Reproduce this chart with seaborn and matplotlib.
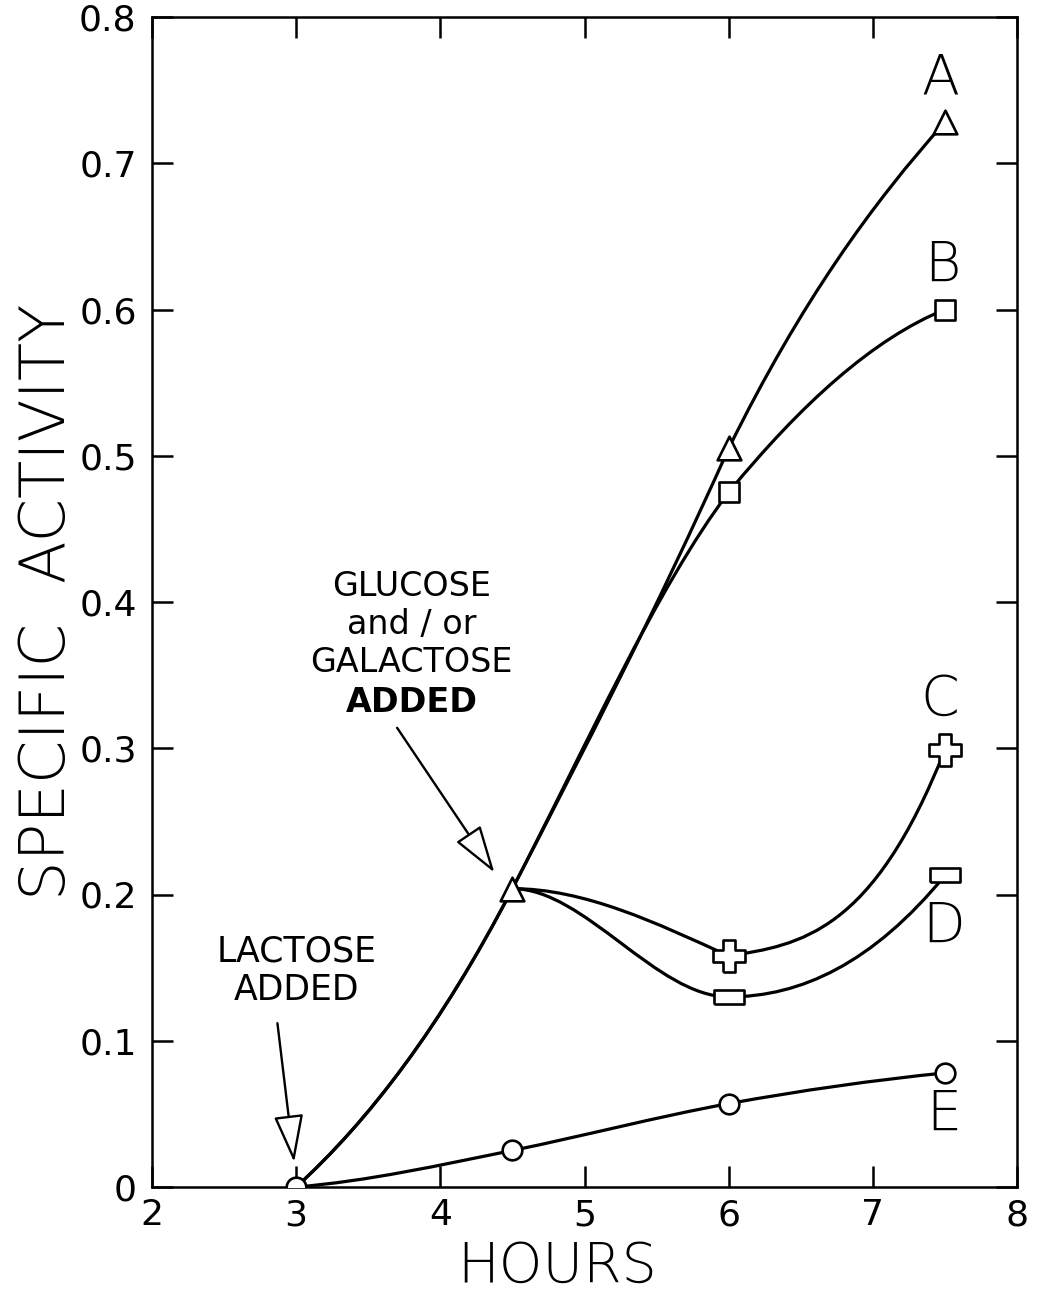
import numpy as np
import matplotlib
matplotlib.use("Agg")
import matplotlib.pyplot as plt
from matplotlib.path import Path
from matplotlib.patches import PathPatch
import seaborn as sns

# ---------------- data ----------------
hours_A = [3.0, 4.5, 6.0, 7.5]
act_A = [0.0, 0.204, 0.505, 0.728]

hours_B = [3.0, 4.5, 6.0, 7.5]
act_B = [0.0, 0.204, 0.475, 0.600]

hours_C = [4.5, 6.0, 7.5]
act_C = [0.204, 0.158, 0.299]

hours_D = [4.5, 6.0, 7.5]
act_D = [0.204, 0.130, 0.213]

hours_E = [3.0, 4.5, 6.0, 7.5]
act_E = [0.0, 0.025, 0.057, 0.078]

curve_names = ["A", "B", "C", "D", "E"]
x_ticks = [2, 3, 4, 5, 6, 7, 8]
x_tick_labels = ["2", "3", "4", "5", "6", "7", "8"]
y_ticks = [0.0, 0.1, 0.2, 0.3, 0.4, 0.5, 0.6, 0.7, 0.8]
y_tick_labels = ["0", "0.1", "0.2", "0.3", "0.4", "0.5", "0.6", "0.7", "0.8"]

# ---------------- drawing style (hand-drawn curve tangents: in/out slopes) ----
shape_A = [(0.09, 0.09), (0.19, 0.19), (0.22, 0.20), (0.11, 0.11)]
shape_B = [(0.09, 0.09), (0.19, 0.19), (0.13, 0.12), (0.04, 0.04)]
shape_C = [(0.0, 0.0), (-0.045, 0.015), (0.25, 0.25)]
shape_D = [(0.0, 0.0), (0.0, 0.0), (0.12, 0.12)]
shape_E = [(0.008, 0.008), (0.02, 0.02), (0.018, 0.018), (0.01, 0.01)]

sns.set_style("ticks")
plt.rcParams["font.family"] = ["DejaVu Sans"]
plt.rcParams["text.color"] = "black"
plt.rcParams["axes.labelcolor"] = "black"
plt.rcParams["xtick.color"] = "black"
plt.rcParams["ytick.color"] = "black"

fig = plt.figure(figsize=(10.39, 12.96), dpi=100)
ax = fig.add_axes([152 / 1039, 1 - 1187 / 1296, 865 / 1039, 1170 / 1296])

LW = 2.3


def smooth_path(xs, ys, slopes):
    verts = [(xs[0], ys[0])]
    codes = [Path.MOVETO]
    for i in range(len(xs) - 1):
        h = xs[i + 1] - xs[i]
        m0 = slopes[i][1]
        m1 = slopes[i + 1][0]
        verts += [(xs[i] + h / 3, ys[i] + m0 * h / 3),
                  (xs[i + 1] - h / 3, ys[i + 1] - m1 * h / 3),
                  (xs[i + 1], ys[i + 1])]
        codes += [Path.CURVE4] * 3
    return Path(verts, codes)


for xs, ys, sh in [(hours_A, act_A, shape_A), (hours_B, act_B, shape_B),
                   (hours_C, act_C, shape_C), (hours_D, act_D, shape_D),
                   (hours_E, act_E, shape_E)]:
    ax.add_patch(PathPatch(smooth_path(xs, ys, sh), fill=False,
                           edgecolor="black", lw=LW, zorder=2,
                           capstyle="round", joinstyle="round"))

# marker shapes
w = 0.4
plus_verts = [(-w, -1), (w, -1), (w, -w), (1, -w), (1, w), (w, w), (w, 1),
              (-w, 1), (-w, w), (-1, w), (-1, -w), (-w, -w), (-w, -1)]
rect_verts = [(-1, -0.48), (1, -0.48), (1, 0.48), (-1, 0.48), (-1, -0.48)]

mk = dict(color="white", edgecolor="black", linewidth=1.9, zorder=4, ax=ax,
          legend=False)
sns.scatterplot(x=hours_A[1:], y=act_A[1:], marker="^", s=290, **mk)
sns.scatterplot(x=hours_B[2:], y=act_B[2:], marker="s", s=220, **mk)
sns.scatterplot(x=hours_C[1:], y=act_C[1:], marker=plus_verts, s=500, **mk)
sns.scatterplot(x=hours_D[1:], y=act_D[1:], marker=rect_verts, s=480, **mk)
sns.scatterplot(x=hours_E, y=act_E, marker="o", s=200, **mk)

# curve letters
letter_pos = [(7.465, 0.758), (7.48, 0.630), (7.465, 0.333),
              (7.49, 0.178), (7.49, 0.049)]
for name, (lx, ly) in zip(curve_names, letter_pos):
    ax.text(lx, ly, name, ha="center", va="center", fontsize=40,
            fontweight="light", zorder=5)

# annotations
arrow_kw = dict(arrowstyle="-|>,head_length=1.15,head_width=0.36",
                fc="white", ec="black", lw=1.7, mutation_scale=26,
                shrinkA=0, shrinkB=0)
ax.annotate("", xy=(4.375, 0.215), xytext=(3.70, 0.314), arrowprops=arrow_kw,
            zorder=3)
ax.annotate("", xy=(2.986, 0.017), xytext=(2.87, 0.112), arrowprops=arrow_kw,
            zorder=3)

gl_lines = [("GLUCOSE", "normal", 0.4103), ("and / or", "normal", 0.3843),
            ("GALACTOSE", "normal", 0.3583), ("ADDED", "bold", 0.3316)]
for txt, wt, ty in gl_lines:
    ax.text(3.80, ty, txt, ha="center", va="center", fontsize=24,
            fontweight=wt, zorder=5)
ax.text(3.0, 0.161, "LACTOSE", ha="center", va="center", fontsize=25, zorder=5)
ax.text(3.0, 0.135, "ADDED", ha="center", va="center", fontsize=25, zorder=5)

# axes
ax.set_xlim(2, 8)
ax.set_ylim(0, 0.8)
ax.set_xticks(x_ticks)
ax.set_xticklabels(x_tick_labels)
ax.set_yticks(y_ticks)
ax.set_yticklabels(y_tick_labels)
ax.tick_params(direction="in", length=15, width=1.8, top=True, right=True,
               labelsize=26, colors="black")
ax.tick_params(axis="y", pad=11)
ax.tick_params(axis="x", pad=8)
for sp in ax.spines.values():
    sp.set_visible(True)
    sp.set_linewidth(1.8)
    sp.set_color("black")

ax.set_xlabel("HOURS", fontsize=40, fontweight="light")
ax.xaxis.set_label_coords(0.468, -0.045)
ax.set_ylabel("SPECIFIC  ACTIVITY", fontsize=45, fontweight="light")
ax.yaxis.set_label_coords(-0.085, 0.50)

fig.savefig("out.png", dpi=100, facecolor="white")
